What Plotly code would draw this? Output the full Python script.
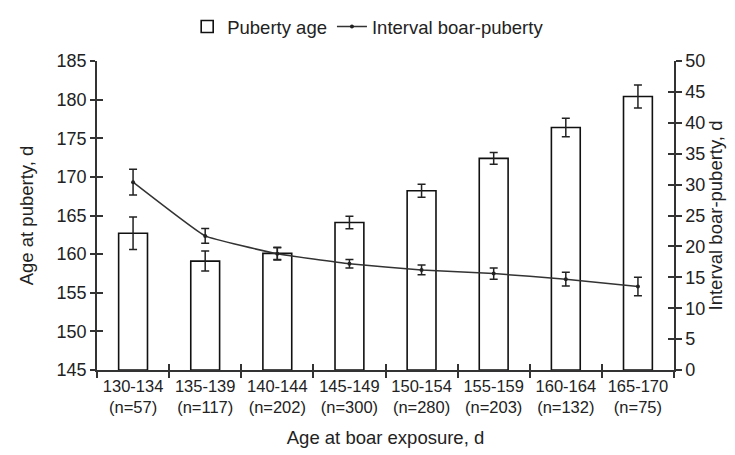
import plotly.graph_objects as go

categories = ["130-134<br>(n=57)", "135-139<br>(n=117)", "140-144<br>(n=202)", "145-149<br>(n=300)",
              "150-154<br>(n=280)", "155-159<br>(n=203)", "160-164<br>(n=132)", "165-170<br>(n=75)"]
puberty_age = [162.7, 159.1, 160.1, 164.1, 168.2, 172.4, 176.4, 180.4]
puberty_err = [2.1, 1.3, 0.8, 0.8, 0.85, 0.75, 1.2, 1.5]
interval = [30.4, 21.7, 18.8, 17.2, 16.2, 15.6, 14.7, 13.5]
interval_err = [2.1, 1.2, 1.0, 0.7, 0.8, 0.9, 1.1, 1.5]
base_age = 145

font_family = "Liberation Sans, Arial, sans-serif"
ink = "#222222"
axis_col = "#333333"

fig = go.Figure()
fig.add_trace(go.Bar(
    x=categories, y=[v - base_age for v in puberty_age], base=base_age, name="Puberty age",
    width=0.4,
    marker=dict(color="white", line=dict(color="#111111", width=1.6)),
    error_y=dict(type="data", array=puberty_err, color="#222222", thickness=1.5, width=4),
    yaxis="y",
))

fig.add_trace(go.Scatter(
    x=categories, y=interval, name="Interval boar-puberty", yaxis="y2",
    mode="lines+markers",
    line=dict(color="#333333", width=1.5, shape="spline", smoothing=0.3),
    marker=dict(color="#222222", size=4),
    error_y=dict(type="data", array=interval_err, color="#222222", thickness=1.5, width=4),
))
# helper invisible traces for inner-tick overlay axes
fig.add_trace(go.Scatter(x=categories, y=[None]*len(categories), xaxis="x2", yaxis="y3",
                         showlegend=False, hoverinfo="skip", mode="markers"))
fig.add_trace(go.Scatter(x=categories, y=[None]*len(categories), xaxis="x2", yaxis="y4",
                         showlegend=False, hoverinfo="skip", mode="markers"))

title_font = dict(family=font_family, size=18.5, color=ink)
fig.update_layout(
    width=735, height=455,
    margin=dict(l=89, r=69, t=53, b=93, autoexpand=False),
    paper_bgcolor="white", plot_bgcolor="white",
    font=dict(family=font_family, color=ink),
    showlegend=True,
    legend=dict(orientation="h", x=0.47, xanchor="center", y=1.0, yanchor="top",
                yref="container", font=dict(family=font_family, size=18.5, color=ink),
                traceorder="normal", itemwidth=30, tracegroupgap=0),
    xaxis=dict(type="category", showline=True, linecolor=axis_col, linewidth=1.5,
               ticks="outside", ticklen=6, tickwidth=1.5, tickcolor=axis_col,
               tickson="boundaries", tickfont=dict(family=font_family, size=16.5, color=ink),
               title=dict(text="Age at boar exposure, d", font=title_font, standoff=16),
               showgrid=False, zeroline=False, automargin=False),
    xaxis2=dict(type="category", overlaying="x", matches="x", showline=False,
                ticks="inside", ticklen=6, tickwidth=1.5, tickcolor=axis_col,
                tickson="boundaries", showticklabels=False, showgrid=False, side="bottom"),
    yaxis=dict(range=[145, 185], dtick=5, showline=True, linecolor=axis_col, linewidth=1.5,
               ticks="outside", ticklen=5, tickwidth=1.5, tickcolor=axis_col,
               tickfont=dict(family=font_family, size=18, color=ink),
               title=dict(text="Age at puberty, d", font=title_font, standoff=18),
               showgrid=False, zeroline=False, automargin=False),
    yaxis2=dict(range=[0, 50], dtick=5, overlaying="y", side="right", showline=True,
                linecolor=axis_col, linewidth=1.5,
                ticks="outside", ticklen=6, tickwidth=1.5, tickcolor=axis_col,
                tickfont=dict(family=font_family, size=18, color=ink),
                title=dict(text="Interval boar-puberty, d", font=title_font, standoff=4),
                showgrid=False, zeroline=False, automargin=False),
    yaxis3=dict(range=[145, 185], dtick=5, overlaying="y", side="left", ticks="inside",
                ticklen=6, tickwidth=1.5, tickcolor=axis_col, showticklabels=False,
                showgrid=False, zeroline=False, showline=False),
    yaxis4=dict(range=[0, 50], dtick=5, overlaying="y", side="right", ticks="inside",
                ticklen=6, tickwidth=1.5, tickcolor=axis_col, showticklabels=False,
                showgrid=False, zeroline=False, showline=False),
)

fig.write_html("out.html")
